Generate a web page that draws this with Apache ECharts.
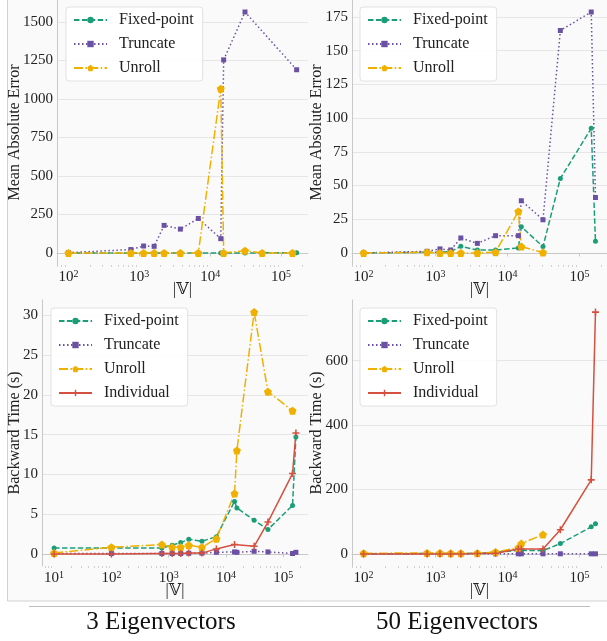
<!DOCTYPE html>
<html><head><meta charset="utf-8">
<script src="https://cdn.jsdelivr.net/npm/echarts@6/dist/echarts.min.js"></script>
<style>html,body{margin:0;padding:0;background:#fff}#c{width:607px;height:641px}</style>
</head><body><div id="c"></div>
<script>
// graph sizes |V|
const X = [10, 100, 760, 1150, 1620, 2240, 3800, 6800, 14100, 15500, 31000, 54000, 145000, 166000];
// Mean Absolute Error, 3 eigenvectors
const mae3Fixed = [null, 0.3, 0.3, 0.3, 0.3, 0.3, 0.3, 0.3, 0.4, 0.5, 0.5, 0.5, 0.8, 0.8];
const mae3Trunc = [null, 2, 22, 45, 43, 179, 155, 224, 93, 1254, 1565, null, null, 1190];
const mae3Unroll = [null, 0, 0, 0, 0, 0, 0, 0, 1067, 0, 15, 0, 0, null];
// Mean Absolute Error, 50 eigenvectors
const mae50Fixed = [null, 0, 0.5, 0.5, 1, 4.9, 2.2, 2.2, 3.7, 19.4, 4.7, 55.2, 92.4, 8.6];
const mae50Trunc = [null, 0, 1.2, 3, 2.2, 11.1, 7.1, 12.8, 12.8, 38.7, 24.6, 164.9, 178.6, 41.1];
const mae50Unroll = [null, 0, 0.5, 0, 0, 0, 0, 0.6, 30.8, 4.7, 0.3, null, null, null];
// Backward time (s), 3 eigenvectors
const time3Fixed = [0.75, 0.75, 0.75, 1.1, 1.42, 1.84, 1.59, 2.17, 6.6, 5.78, 4.23, 3.06, 6.1, 14.7];
const time3Trunc = [0.05, 0.05, 0.05, 0.05, 0.05, 0.08, 0.1, 0.2, 0.25, 0.2, 0.33, 0.25, 0.05, 0.2];
const time3Unroll = [0.12, 0.83, 1.17, 0.83, 0.83, 1.1, 0.83, 1.92, 7.58, 13.0, 30.4, 20.4, 18.0, null];
const time3Indiv = [0, 0, 0.04, 0.04, 0.06, 0.1, 0.1, 0.63, 1.17, null, 0.96, 4.0, 10.1, 15.2];
// Backward time (s), 50 eigenvectors
const time50Fixed = [null, 0.5, 1, 1, 1, 1, 2, 5, 11, 11, 10, 32, 84, 94];
const time50Trunc = [null, 0.3, 0.3, 0.3, 0.3, 0.3, 0.3, 0.3, 0.3, 0.3, 0.3, 0.3, 0.3, 0.3];
const time50Unroll = [null, 2, 3, 3, 2, 2, 2, 6, 19, 32, 60, null, null, null];
const time50Indiv = [null, 0, 0, 0, 0, 0, 1, 2, 15, 15, 15, 75, 230, 751];
// tick labels
const maeTicks3 = [0, 250, 500, 750, 1000, 1250, 1500];
const maeTicks50 = [0, 25, 50, 75, 100, 125, 150, 175];
const timeTicks3 = [0, 5, 10, 15, 20, 25, 30];
const timeTicks50 = [0, 200, 400, 600];
const xTicksA = [100, 1000, 10000, 100000];
const xTicksB = [10, 100, 1000, 10000, 100000];
const minorMult = [2, 3, 4, 5, 6, 7, 8, 9];
const minorDecades = [1, 10, 100, 1000, 10000, 100000];
const names = ['Fixed-point', 'Truncate', 'Unroll', 'Individual'];
const panelTitles = ['3 Eigenvectors', '50 Eigenvectors'];

const FONT = 'Liberation Serif, DejaVu Serif, serif';
const TXT = '#222';
const styles = {
  'Fixed-point': {color: '#1b9e77', dash: [5.5, 2.4], symbol: 'circle', size: 5},
  'Truncate': {color: '#6a51a3', dash: [1.5, 2.5], symbol: 'rect', size: 5},
  'Unroll': {color: '#f0b000', dash: [9, 2.4, 1.5, 2.4], symbol: 'path://M0,-1L0.951,-0.309L0.588,0.809L-0.588,0.809L-0.951,-0.309Z', size: 8},
  'Individual': {color: '#d6503f', dash: 'solid', symbol: 'path://M-1,-0.22L-0.22,-0.22L-0.22,-1L0.22,-1L0.22,-0.22L1,-0.22L1,0.22L0.22,0.22L0.22,1L-0.22,1L-0.22,0.22L-1,0.22Z', size: 7}
};

function pairs(vals) {
  return X.map((x, i) => vals[i] == null ? null : [x, vals[i]]).filter(p => p);
}
function mk(name, vals, g) {
  const s = styles[name];
  return {
    type: 'line', name: name, xAxisIndex: g, yAxisIndex: g,
    data: pairs(vals), symbol: s.symbol, symbolSize: s.size, showSymbol: true,
    itemStyle: {color: s.color},
    lineStyle: {color: s.color, width: 1.5, type: s.dash},
    animation: false, z: 3
  };
}

const grids = [
  {left: 57, top: -1, width: 251, height: 266},
  {left: 352, top: -1, width: 259, height: 266},
  {left: 42, top: 300, width: 266, height: 266},
  {left: 352, top: 300, width: 259, height: 266}
];
const xr = [[69, 240000, xTicksA], [69, 240000, xTicksA], [6.15, 270000, xTicksB], [69, 240000, xTicksA]];
const yr = [
  [-78.25, 1643, maeTicks3, 'Mean Absolute Error', 34],
  [-8.93, 187.5, maeTicks50, 'Mean Absolute Error', 27],
  [-1.52, 31.92, timeTicks3, 'Backward Time (s)', 19],
  [-37.55, 788.6, timeTicks50, 'Backward Time (s)', 27]
];
const minorVals = [];
minorDecades.forEach(d => minorMult.forEach(m => minorVals.push(d * m)));

function xAxisFor(i) {
  return {
    type: 'log', logBase: 10, gridIndex: i, position: 'bottom', min: xr[i][0], max: xr[i][1],
    name: '|𝕍|', nameLocation: 'middle', nameGap: 17, nameMoveOverlap: false,
    nameTextStyle: {fontFamily: FONT + ', DejaVu Sans', fontSize: 16, color: TXT},
    axisLine: {show: true, lineStyle: {color: '#c8c8c8', width: 1}},
    axisTick: {show: true, customValues: xr[i][2], length: 3.5, lineStyle: {color: '#c8c8c8'}},
    splitLine: {show: false},
    axisLabel: {
      customValues: xr[i][2], margin: 4, color: TXT,
      formatter: v => '{b|10}{s|' + Math.round(Math.log10(v)) + '}',
      rich: {b: {fontFamily: FONT, fontSize: 15, color: TXT}, s: {fontFamily: FONT, fontSize: 10, color: TXT, verticalAlign: 'top', padding: [0, 0, 6, 0]}}
    }
  };
}
function minorAxisFor(i) {
  return {
    type: 'log', logBase: 10, gridIndex: i, position: 'bottom', min: xr[i][0], max: xr[i][1],
    axisLine: {show: false},
    axisTick: {show: true, customValues: minorVals.filter(v => v > xr[i][0] && v < xr[i][1]), length: 2, lineStyle: {color: '#d0d0d0'}},
    axisLabel: {show: false}, splitLine: {show: false}
  };
}
function yAxisFor(i) {
  return {
    type: 'value', gridIndex: i, min: yr[i][0], max: yr[i][1],
    name: yr[i][3], nameLocation: 'middle', nameGap: yr[i][4], nameMoveOverlap: false,
    nameTextStyle: {fontFamily: FONT, fontSize: 16, color: TXT},
    axisLine: {show: true, lineStyle: {color: '#c8c8c8', width: 1}},
    axisTick: {show: false, customValues: yr[i][2]},
    splitLine: {show: true, lineStyle: {color: '#e6e6e6', width: 1}},
    axisLabel: {customValues: yr[i][2], margin: 4, fontFamily: FONT, fontSize: 15, color: TXT, formatter: v => String(v)}
  };
}
function legendFor(i, left, top, data) {
  return {
    orient: 'vertical', left: left, top: top, data: data,
    itemWidth: 33, itemHeight: 8, itemGap: 8,
    padding: [5, 9, 5, 7],
    backgroundColor: 'rgba(255,255,255,0.85)', borderColor: '#e2e2e2', borderWidth: 1, borderRadius: 3,
    textStyle: {fontFamily: FONT, fontSize: 16, color: TXT, lineHeight: 16, padding: [0, 0, 0, 7]},
    selectedMode: false
  };
}

const series = [
  mk('Fixed-point', mae3Fixed, 0), mk('Truncate', mae3Trunc, 0), mk('Unroll', mae3Unroll, 0),
  mk('Fixed-point', mae50Fixed, 1), mk('Truncate', mae50Trunc, 1), mk('Unroll', mae50Unroll, 1),
  mk('Fixed-point', time3Fixed, 2), mk('Truncate', time3Trunc, 2), mk('Unroll', time3Unroll, 2), mk('Individual', time3Indiv, 2),
  mk('Fixed-point', time50Fixed, 3), mk('Truncate', time50Trunc, 3), mk('Unroll', time50Unroll, 3), mk('Individual', time50Indiv, 3)
];

const chart = echarts.init(document.getElementById('c'), null, {renderer: 'canvas'});
chart.setOption({
  animation: false,
  backgroundColor: '#ffffff',
  textStyle: {fontFamily: FONT},
  grid: grids,
  xAxis: [0, 1, 2, 3].map(xAxisFor).concat([0, 1, 2, 3].map(minorAxisFor)),
  yAxis: [0, 1, 2, 3].map(yAxisFor),
  legend: [
    legendFor(0, 66, 7, names.slice(0, 3)),
    legendFor(1, 360, 7, names.slice(0, 3)),
    legendFor(2, 51, 308, names),
    legendFor(3, 360, 308, names)
  ],
  graphic: [
    {type: 'rect', z: -10, silent: true, shape: {x: 7.5, y: -2, width: 620, height: 603}, style: {fill: '#fafafa', stroke: '#d2d2d2', lineWidth: 1}},
    {type: 'line', silent: true, shape: {x1: 29, y1: 606.5, x2: 590, y2: 606.5}, style: {stroke: '#bdbdbd', lineWidth: 1}},
    {type: 'text', silent: true, x: 161, y: 622, style: {text: panelTitles[0], fontFamily: FONT, fontSize: 25, fill: '#111', align: 'center', verticalAlign: 'middle'}},
    {type: 'text', silent: true, x: 457, y: 622, style: {text: panelTitles[1], fontFamily: FONT, fontSize: 25, fill: '#111', align: 'center', verticalAlign: 'middle'}}
  ],
  series: series
});
</script></body></html>
